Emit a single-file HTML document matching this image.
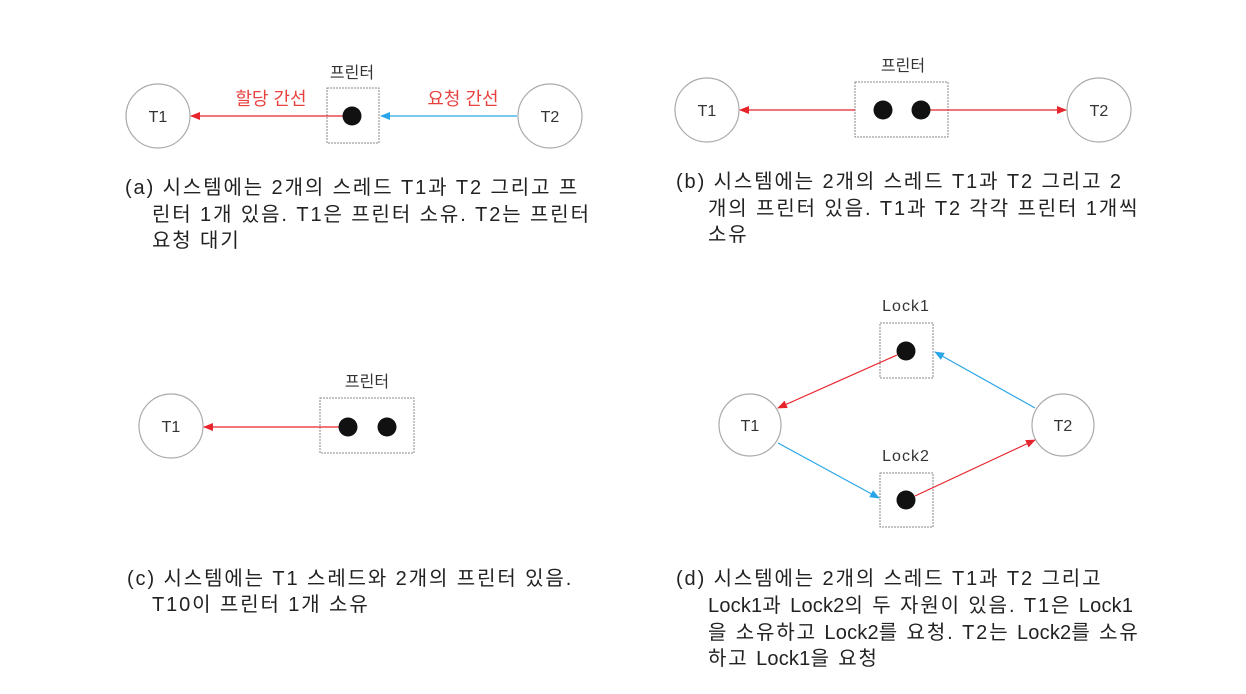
<!DOCTYPE html>
<html><head><meta charset="utf-8"><style>
body{margin:0;background:#fff;width:1246px;height:694px;overflow:hidden;position:relative;font-family:"Liberation Sans","Noto Sans CJK KR",sans-serif}
.t{position:absolute;font-size:20px;color:#222;white-space:nowrap;letter-spacing:1.9px;line-height:24px}
.l{letter-spacing:0.2px}
svg{position:absolute;left:0;top:0}
</style></head><body>
<svg width="1246" height="694" font-family="Liberation Sans, Noto Sans CJK KR, sans-serif">
<defs>
<marker id="r" markerWidth="10" markerHeight="8" refX="9" refY="4" orient="auto" markerUnits="userSpaceOnUse"><path d="M0,0 L10,4 L0,8z" fill="#e8242c"/></marker>
<marker id="b" markerWidth="10" markerHeight="8" refX="9" refY="4" orient="auto" markerUnits="userSpaceOnUse"><path d="M0,0 L10,4 L0,8z" fill="#2aa6e8"/></marker>
</defs>
<g fill="none" stroke="#aaa" stroke-width="1.2">
<circle cx="158" cy="116" r="32"/><circle cx="550" cy="116" r="32"/>
<circle cx="707" cy="110" r="32"/><circle cx="1099" cy="110" r="32"/>
<circle cx="171" cy="426" r="32"/>
<circle cx="750" cy="425" r="31"/><circle cx="1063" cy="425" r="31"/>
</g>
<g fill="none" stroke="#888" stroke-width="1" stroke-dasharray="2,1">
<rect x="327" y="88" width="52" height="55"/>
<rect x="855" y="82" width="93" height="55"/>
<rect x="320" y="398" width="94" height="55"/>
<rect x="880" y="323" width="53" height="55"/>
<rect x="880" y="473" width="53" height="54"/>
</g>
<g stroke-width="1.2">
<line x1="350" y1="116" x2="191" y2="116" stroke="#e8242c" marker-end="url(#r)"/>
<line x1="517" y1="116" x2="381" y2="116" stroke="#2aa6e8" marker-end="url(#b)"/>
<line x1="855" y1="110" x2="740" y2="110" stroke="#e8242c" marker-end="url(#r)"/>
<line x1="921" y1="110" x2="1066" y2="110" stroke="#e8242c" marker-end="url(#r)"/>
<line x1="348" y1="427" x2="204" y2="427" stroke="#e8242c" marker-end="url(#r)"/>
<line x1="897" y1="355" x2="778" y2="408" stroke="#e8242c" marker-end="url(#r)"/>
<line x1="1035" y1="408" x2="935" y2="352" stroke="#2aa6e8" marker-end="url(#b)"/>
<line x1="778" y1="443" x2="879" y2="498" stroke="#2aa6e8" marker-end="url(#b)"/>
<line x1="915" y1="496" x2="1035" y2="440" stroke="#e8242c" marker-end="url(#r)"/>
</g>
<g fill="#111">
<circle cx="352" cy="116" r="9.5"/>
<circle cx="883" cy="110" r="9.5"/><circle cx="921" cy="110" r="9.5"/>
<circle cx="348" cy="427" r="9.5"/><circle cx="387" cy="427" r="9.5"/>
<circle cx="906" cy="351" r="9.5"/><circle cx="906" cy="500" r="9.5"/>
</g>
<g font-size="16" fill="#333" text-anchor="middle">
<text x="158" y="122">T1</text><text x="550" y="122">T2</text>
<text x="707" y="116">T1</text><text x="1099" y="116">T2</text>
<text x="171" y="432">T1</text>
<text x="750" y="431">T1</text><text x="1063" y="431">T2</text>
<text x="906" y="311" letter-spacing="1">Lock1</text><text x="906" y="461" letter-spacing="1">Lock2</text>
<text x="352" y="78">프린터</text><text x="903" y="71">프린터</text><text x="367" y="387">프린터</text>
</g>
<g font-size="18" fill="#e8423f" text-anchor="middle">
<text x="271" y="105">할당 간선</text><text x="463" y="105">요청 간선</text>
</g>
</svg>
<div class="t" style="left:125px;top:176px">(a) 시스템에는 2개의 스레드 T1과 T2 그리고 프</div>
<div class="t" style="left:152px;top:203px">린터 1개 있음. T1은 프린터 소유. T2는 프린터</div>
<div class="t" style="left:152px;top:229px">요청 대기</div>
<div class="t" style="left:676px;top:170px">(b) 시스템에는 2개의 스레드 T1과 T2 그리고 2</div>
<div class="t" style="left:708px;top:197px">개의 프린터 있음. T1과 T2 각각 프린터 1개씩</div>
<div class="t" style="left:708px;top:223px">소유</div>
<div class="t" style="left:127px;top:567px">(c) 시스템에는 T1 스레드와 2개의 프린터 있음.</div>
<div class="t" style="left:152px;top:593px">T10이 프린터 1개 소유</div>
<div class="t" style="left:676px;top:567px">(d) 시스템에는 2개의 스레드 T1과 T2 그리고</div>
<div class="t" style="left:708px;top:594px"><span class="l">Lock1</span>과 <span class="l">Lock2</span>의 두 자원이 있음. T1은 <span class="l">Lock1</span></div>
<div class="t" style="left:708px;top:621px">을 소유하고 <span class="l">Lock2</span>를 요청. T2는 <span class="l">Lock2</span>를 소유</div>
<div class="t" style="left:708px;top:647px">하고 <span class="l">Lock1</span>을 요청</div>
</body></html>
